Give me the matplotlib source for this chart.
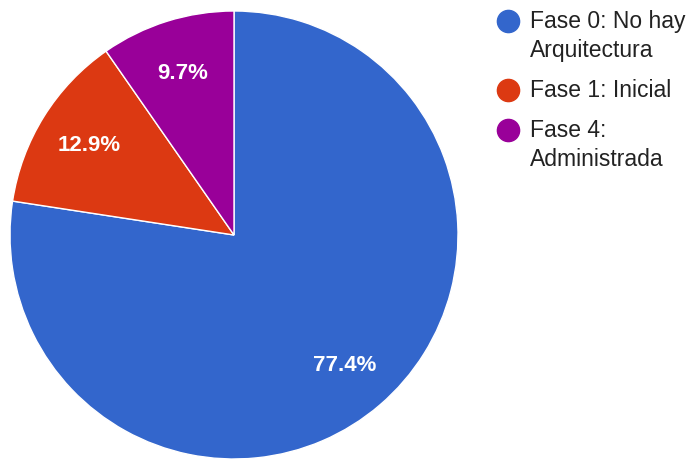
import matplotlib.pyplot as plt
from matplotlib.lines import Line2D

# survey answers (counts), out of 31 responses
labels = ['Fase 0: No hay\nArquitectura', 'Fase 1: Inicial', 'Fase 4:\nAdministrada']
counts = [24, 4, 3]
colors = ['#3366cc', '#dc3912', '#990099']

plt.rcParams['font.family'] = ['Liberation Sans', 'DejaVu Sans']

fig = plt.figure(figsize=(6.92, 4.60), dpi=100)
W, H = 692, 460

ax = fig.add_axes([10 / W, 0, 448 / W, 448 / H])
wedges, texts, pcts = ax.pie(
    counts, colors=colors, startangle=90, counterclock=False,
    autopct='%.1f%%', pctdistance=0.76,
    wedgeprops=dict(edgecolor='white', linewidth=1),
    textprops=dict(color='white', fontsize=16, fontweight='bold'),
)
ax.set_xlim(-1.0, 1.0)
ax.set_ylim(-1.0, 1.0)

# legend on the right, circle next to the first line of each label
base = 28
for lab, col in zip(labels, colors):
    fig.add_artist(Line2D([508 / W], [1 - (base - 6) / H], marker='o', markersize=16,
                          color=col, linestyle='none', transform=fig.transFigure))
    for line in lab.split('\n'):
        fig.text(530 / W, 1 - base / H, line, fontsize=16.5, color='#222222',
                 va='baseline', ha='left')
        base += 29
    base += 11

fig.savefig('out.png', dpi=100)
